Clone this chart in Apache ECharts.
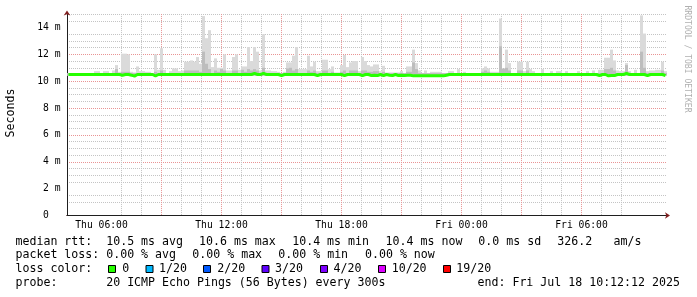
<!DOCTYPE html>
<html><head><meta charset="utf-8">
<script src="https://cdn.jsdelivr.net/npm/echarts@6/dist/echarts.min.js"></script>
<style>html,body{margin:0;padding:0;background:#fff}#c{width:697px;height:297px}</style>
</head><body><div id="c"></div>
<script>
// ---- data (milliseconds), one value per 9-minute column ----
const smokeMax = [
  10.6,10.6,10.6,10.6,10.6,10.6,10.6,10.6,10.6,10.75,
  10.75,10.6,10.75,10.75,10.6,10.8,11.2,10.7,12.05,12.05,
  12.0,10.7,10.65,11.1,10.75,10.75,10.7,10.7,10.6,12.0,
  10.85,12.45,10.85,10.6,10.75,10.95,10.95,10.75,10.8,11.45,
  11.45,11.55,11.45,11.8,11.3,14.85,13.2,13.8,11.05,11.7,
  11.0,11.0,12.0,10.8,10.8,11.8,12.0,10.85,11.1,11.1,
  12.55,11.5,12.55,12.2,10.8,13.5,10.8,10.8,10.75,10.75,
  10.7,10.6,10.7,11.4,11.4,11.9,12.55,10.9,10.9,10.9,
  11.9,11.1,11.45,10.75,10.75,11.6,11.6,10.9,11.1,10.65,
  10.65,11.2,11.95,11.05,11.4,11.5,11.5,10.75,11.8,11.5,
  11.2,11.1,11.25,11.25,10.75,11.15,10.65,10.65,10.65,10.65,
  10.65,10.75,10.6,11.1,11.1,12.35,11.35,10.8,10.6,10.8,
  10.6,10.7,10.7,10.7,10.7,10.6,10.6,10.75,10.75,10.6,
  10.9,10.6,10.7,10.6,10.6,10.6,10.6,10.6,10.95,11.1,
  10.95,10.7,10.7,10.7,14.67,10.85,12.35,11.35,10.6,10.6,
  11.45,11.45,10.75,11.45,10.9,10.75,10.6,10.6,10.9,10.6,
  10.6,10.75,10.6,10.75,10.75,10.6,10.75,10.6,10.6,10.6,
  10.75,10.6,10.6,10.75,10.6,10.8,10.6,10.85,10.85,11.75,
  11.75,12.35,11.55,10.8,10.75,10.75,11.35,10.75,10.6,10.85,
  10.6,14.9,13.55,10.75,10.8,10.8,10.85,10.85,11.45,10.75
];
const smokeMid = [
  10.6,10.6,10.6,10.6,10.6,10.6,10.6,10.6,10.6,10.6,
  10.6,10.6,10.6,10.6,10.6,10.6,10.9,10.6,10.7,10.7,
  10.7,10.6,10.6,10.6,10.6,10.6,10.6,10.6,10.6,10.7,
  10.6,10.8,10.6,10.6,10.6,10.6,10.6,10.6,10.6,10.8,
  10.8,10.8,10.8,10.8,10.7,12.2,11.3,10.9,10.6,10.8,
  10.7,10.9,10.8,10.6,10.6,10.8,10.8,10.6,10.85,10.7,
  10.9,10.8,10.9,10.8,10.6,11.0,10.6,10.6,10.6,10.6,
  10.6,10.6,10.6,10.95,11.0,10.8,10.9,10.6,10.6,10.6,
  10.8,10.7,10.8,10.6,10.6,10.8,10.8,10.6,10.7,10.6,
  10.6,10.7,10.8,10.6,10.8,10.8,10.8,10.6,10.8,10.8,
  10.7,10.7,10.75,10.75,10.6,10.7,10.6,10.6,10.6,10.6,
  10.6,10.6,10.6,10.7,10.7,11.4,10.9,10.6,10.6,10.6,
  10.6,10.6,10.6,10.6,10.6,10.6,10.6,10.6,10.6,10.6,
  10.6,10.6,10.6,10.6,10.6,10.6,10.6,10.6,10.7,10.8,
  10.7,10.6,10.6,10.6,12.6,10.95,11.0,10.8,10.6,10.6,
  10.8,10.8,10.6,10.8,10.6,10.6,10.6,10.6,10.6,10.6,
  10.6,10.6,10.6,10.6,10.6,10.6,10.6,10.6,10.6,10.6,
  10.6,10.6,10.6,10.6,10.6,10.6,10.6,10.6,10.6,10.9,
  10.9,11.0,10.8,10.6,10.6,10.6,11.2,10.6,10.6,10.6,
  10.6,12.2,11.0,10.6,10.6,10.6,10.6,10.6,10.8,10.6
];
const median = [
  10.5,10.5,10.5,10.5,10.5,10.5,10.5,10.5,10.5,10.5,
  10.5,10.5,10.5,10.5,10.5,10.5,10.5,10.5,10.45,10.5,
  10.5,10.45,10.38,10.5,10.5,10.5,10.5,10.5,10.5,10.4,
  10.5,10.5,10.5,10.5,10.5,10.5,10.5,10.5,10.5,10.5,
  10.5,10.5,10.5,10.5,10.5,10.5,10.5,10.5,10.5,10.5,
  10.5,10.5,10.5,10.5,10.5,10.5,10.5,10.5,10.5,10.5,
  10.5,10.5,10.58,10.5,10.5,10.58,10.5,10.5,10.5,10.5,
  10.5,10.42,10.5,10.5,10.5,10.5,10.5,10.5,10.5,10.5,
  10.5,10.5,10.5,10.42,10.5,10.5,10.5,10.5,10.5,10.5,
  10.5,10.5,10.42,10.5,10.5,10.5,10.5,10.5,10.42,10.5,
  10.5,10.42,10.45,10.42,10.5,10.42,10.5,10.45,10.42,10.5,
  10.42,10.45,10.42,10.45,10.45,10.4,10.4,10.4,10.4,10.4,
  10.4,10.4,10.4,10.4,10.4,10.4,10.45,10.5,10.5,10.5,
  10.5,10.5,10.5,10.5,10.5,10.5,10.5,10.5,10.5,10.5,
  10.5,10.5,10.5,10.5,10.5,10.5,10.5,10.5,10.5,10.5,
  10.5,10.5,10.5,10.5,10.5,10.5,10.5,10.5,10.5,10.5,
  10.5,10.5,10.5,10.5,10.5,10.5,10.5,10.5,10.5,10.5,
  10.5,10.5,10.5,10.5,10.5,10.5,10.5,10.42,10.5,10.5,
  10.4,10.42,10.42,10.5,10.5,10.5,10.58,10.5,10.5,10.5,
  10.5,10.5,10.5,10.42,10.5,10.5,10.5,10.5,10.5,10.42
];
const smokeLow = 10.42;

// axis ticks (hours since Thu 00:00 / ms)
const hourStart = 4.275, hourEnd = 34.275;
const xLabelHours = [6, 12, 18, 24, 30];
const xLabelTexts = ['Thu 06:00', 'Thu 12:00', 'Thu 18:00', 'Fri 00:00', 'Fri 06:00'];
const yLabelValues = [0, 2, 4, 6, 8, 10, 12, 14];
const yMajorLines = [2, 4, 6, 8, 10, 12, 14];

// legend texts
const legendRow1 = [[15.5,'median rtt:'],[106.2,'10.5 ms avg'],[199,'10.6 ms max'],[292.2,'10.4 ms min'],[385.6,'10.4 ms now'],[478.3,'0.0 ms sd'],[557.3,'326.2'],[613.5,'am/s']];
const legendRow2 = [[15.5,'packet loss:'],[106.2,'0.00 % avg'],[192.3,'0.00 % max'],[278.3,'0.00 % min'],[365,'0.00 % now']];
const legendRow3 = [[15.5,'loss color:']];
const lossLabels = ['0','1/20','2/20','3/20','4/20','10/20','19/20'];
const lossColors = ['#26ff00','#00b8ff','#0059ff','#5e00ff','#7e00ff','#dd00ff','#ff0000'];
const lossBoxX = [108, 145.5, 203, 261.5, 320, 378, 443];
const lossTextX = [122.3, 159, 217.3, 275, 333.5, 391.7, 456.3];
const legendRow4 = [[15.5,'probe:'],[106.2,'20 ICMP Echo Pings (56 Bytes) every 300s'],[477.5,'end: Fri Jul 18 10:12:12 2025']];
const rowY = [241.5, 255.2, 268.9, 282.6];

const mono = 'DejaVu Sans Mono';
const N = smokeMax.length;
const cats = [];
for (let i = 0; i < N; i++) cats.push('c' + i);
// minor grid positions (skip those covered by major lines)
const minorHours = [];
for (let h = 5; h <= 34; h++) if (h % 3 !== 0) minorHours.push(h);
const majorHours = [];
for (let h = 6; h <= 33; h += 3) majorHours.push(h);
const yMinorLines = [];
for (let k = 1; k <= 30; k++) if (k % 4 !== 0) yMinorLines.push(k / 2);

const graphic = [];
function txt(x, y, s, size, color, extra) {
  return Object.assign({type:'text', x:x, y:y, silent:true,
    style:{text:s, fontFamily:mono, fontSize:size, fill:color, align:'left', verticalAlign:'middle'}}, extra || {});
}
[legendRow1, legendRow2, legendRow3, legendRow4].forEach((row, r) => {
  row.forEach(([x, s]) => graphic.push(txt(x, rowY[r], s, 11.6, '#000')));
});
lossLabels.forEach((s, k) => {
  graphic.push({type:'rect', silent:true, shape:{x:lossBoxX[k] + 0.5, y:265.5, width:7, height:7},
    style:{fill:lossColors[k], stroke:'#000', lineWidth:1}});
  graphic.push(txt(lossTextX[k], rowY[2], s, 11.6, '#000'));
});
graphic.push({type:'text', x:10.5, y:113, rotation:Math.PI/2, silent:true,
  style:{text:'Seconds', fontFamily:mono, fontSize:11.6, fill:'#000', align:'center', verticalAlign:'middle'}});
graphic.push({type:'text', x:687.5, y:59, rotation:-Math.PI/2, silent:true,
  style:{text:'RRDTOOL / TOBI OETIKER', fontFamily:mono, fontSize:8.1, fill:'#b0b0b0', align:'center', verticalAlign:'middle'}});

const minorGrid = {color:'#c4c4c4', type:[1,1], width:1};
const majorGrid = {color:'#e99494', type:[1,1], width:1};
const arrowColor = '#801f1f';
const axisColor = '#1f1f1f';

const chart = echarts.init(document.getElementById('c'), null, {renderer:'canvas'});
chart.setOption({
  animation:false,
  backgroundColor:'#ffffff',
  grid:{left:67, width:600, top:14.07, height:201.43, containLabel:false, outerBoundsMode:'none'},
  xAxis:[
    {type:'category', data:cats, show:false, boundaryGap:true, position:'bottom'},
    {type:'value', position:'bottom', min:hourStart, max:hourEnd,
      axisLine:{show:true, lineStyle:{color:arrowColor, width:1}, symbol:['none','arrow'], symbolSize:[5,5], symbolOffset:[0,3]},
      axisTick:{show:false, customValues:minorHours}, axisLabel:{show:false},
      splitLine:{show:true, showMinLine:false, showMaxLine:false, lineStyle:minorGrid}},
    {type:'value', position:'bottom', min:hourStart, max:hourEnd,
      axisLine:{show:true, lineStyle:{color:axisColor, width:1}},
      axisTick:{show:false, customValues:majorHours},
      axisLabel:{show:true, customValues:xLabelHours, formatter:v => xLabelTexts[xLabelHours.indexOf(v)],
        fontFamily:mono, fontSize:9.7, color:'#000', margin:5},
      splitLine:{show:true, showMinLine:false, showMaxLine:false, lineStyle:majorGrid}}
  ],
  yAxis:[
    {type:'value', position:'left', min:0, max:15,
      axisLine:{show:true, lineStyle:{color:arrowColor, width:1}, symbol:['none','arrow'], symbolSize:[5,5], symbolOffset:[0,3.5]},
      axisTick:{show:false, customValues:yMinorLines}, axisLabel:{show:false},
      splitLine:{show:true, showMinLine:false, lineStyle:minorGrid}},
    {type:'value', position:'left', min:0, max:15,
      axisLine:{show:true, lineStyle:{color:axisColor, width:1}},
      axisTick:{show:false, customValues:yMajorLines},
      axisLabel:{show:true, customValues:yLabelValues, formatter:v => v === 0 ? '0  ' : v + ' m',
        fontFamily:mono, fontSize:9.7, color:'#000', margin:6.5, align:'right'},
      splitLine:{show:true, showMinLine:false, showMaxLine:false, lineStyle:majorGrid}}
  ],
  series:[
    {type:'bar', stack:'smoke', data:smokeMax.map(() => smokeLow), barWidth:3, barGap:'-100%', silent:true,
      itemStyle:{color:'rgba(0,0,0,0)'}},
    {type:'bar', stack:'smoke', data:smokeMax.map(v => +(v - smokeLow).toFixed(3)), barWidth:3, barGap:'-100%', silent:true,
      itemStyle:{color:'#dadada'}},
    {type:'bar', stack:'core', data:smokeMid.map(() => smokeLow), barWidth:3, barGap:'-100%', silent:true,
      itemStyle:{color:'rgba(0,0,0,0)'}},
    {type:'bar', stack:'core', data:smokeMid.map(v => +Math.max(0, v - smokeLow).toFixed(3)), barWidth:3, barGap:'-100%', silent:true,
      itemStyle:{color:'#bdbdbd'}},
    {type:'line', data:median, step:'middle', symbol:'none', silent:true, z:5,
      lineStyle:{color:'#26ff00', width:3}}
  ],
  graphic:graphic
});
</script></body></html>
